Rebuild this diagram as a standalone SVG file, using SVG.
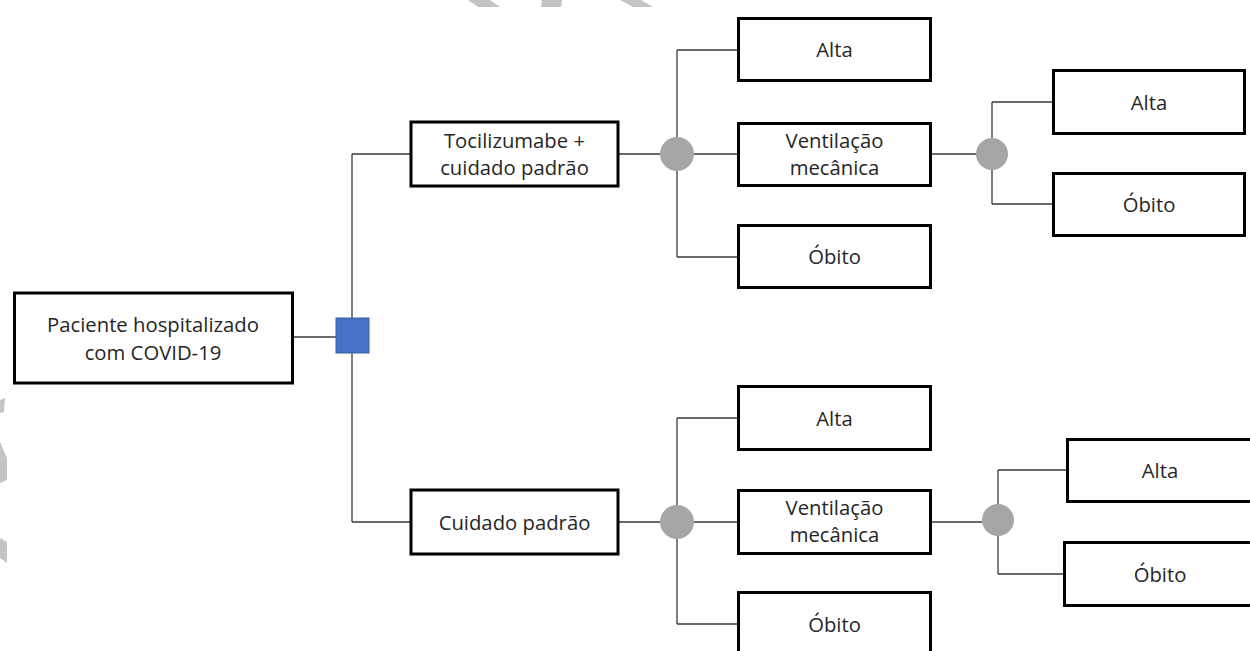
<svg xmlns="http://www.w3.org/2000/svg" width="1250" height="651" viewBox="0 0 1250 651">
<style>
.box{fill:#fff;stroke:#000;stroke-width:3}
.t{font-family:"Open Sans","Noto Sans","Liberation Sans",sans-serif;font-size:20.3px;fill:#262626;text-anchor:middle}
.c{stroke:#3a3a3a;stroke-width:1.3;fill:none}
.chance{fill:#a6a6a6}
.wm{fill:#c4c4c4}
</style>
<rect width="1250" height="651" fill="#fff"/>
<g id="watermark">
<polygon class="wm" points="468,0 490,0 500,7 478,7"/>
<polygon class="wm" points="542,0 562,0 561,7 541,7"/>
<polygon class="wm" points="620,0 641,0 653,7 633,7"/>
<polygon class="wm" points="0,400 5,398 4,412 0,413"/>
<polygon class="wm" points="0,442 7,458 7,480 0,483"/>
<polygon class="wm" points="0,538 7,542 7,563 0,558"/>
</g>
<g id="connectors">
<path class="c" d="M293 337H336"/>
<path class="c" d="M352 154V522M352 154H410M352 522H410"/>
<path class="c" d="M619 154H677M677 50V257M677 50H737M677 154H737M677 257H737"/>
<path class="c" d="M932 154H992M992 102V204M992 102H1052M992 204H1052"/>
<path class="c" d="M619 522H677M677 418V624M677 418H737M677 522H737M677 624H737"/>
<path class="c" d="M932 522H998M998 470V574M998 470H1066M998 574H1063"/>
</g>
<g id="n-root"><rect class="box" x="14.5" y="293" width="278" height="90"/><text class="t" x="153" y="332">Paciente hospitalizado</text><text class="t" x="153" y="360">com COVID-19</text></g>
<g id="n-decision"><rect x="336" y="318" width="33" height="35" fill="#4472c4" stroke="#3a5f9f" stroke-width="1"/></g>
<g id="n-toci"><rect class="box" x="411" y="122" width="207" height="64"/><text class="t" x="514.5" y="148">Tocilizumabe +</text><text class="t" x="514.5" y="175">cuidado padrão</text></g>
<g id="n-chance1"><circle class="chance" cx="677" cy="154" r="17"/></g>
<g id="n-alta1"><rect class="box" x="738.5" y="18.5" width="192" height="62"/><text class="t" x="834.5" y="57">Alta</text></g>
<g id="n-vent1"><rect class="box" x="738.5" y="123.5" width="192" height="62"/><text class="t" x="834.5" y="148">Ventilação</text><text class="t" x="834.5" y="175">mecânica</text></g>
<g id="n-obito1"><rect class="box" x="738.5" y="225.5" width="192" height="62"/><text class="t" x="834.5" y="264">Óbito</text></g>
<g id="n-chance2"><circle class="chance" cx="992" cy="154" r="16"/></g>
<g id="n-alta1b"><rect class="box" x="1053.5" y="70.5" width="191" height="63"/><text class="t" x="1149" y="110">Alta</text></g>
<g id="n-obito1b"><rect class="box" x="1053.5" y="173.5" width="191" height="62"/><text class="t" x="1149" y="212">Óbito</text></g>
<g id="n-cuid"><rect class="box" x="411" y="490" width="207" height="64"/><text class="t" x="514.5" y="530">Cuidado padrão</text></g>
<g id="n-chance3"><circle class="chance" cx="677" cy="522" r="17"/></g>
<g id="n-alta2"><rect class="box" x="738.5" y="386.5" width="192" height="63"/><text class="t" x="834.5" y="426">Alta</text></g>
<g id="n-vent2"><rect class="box" x="738.5" y="490.5" width="192" height="63"/><text class="t" x="834.5" y="515">Ventilação</text><text class="t" x="834.5" y="542">mecânica</text></g>
<g id="n-obito2"><rect class="box" x="738.5" y="592.5" width="192" height="64"/><text class="t" x="834.5" y="632">Óbito</text></g>
<g id="n-chance4"><circle class="chance" cx="998" cy="520" r="16"/></g>
<g id="n-alta2b"><rect class="box" x="1067.5" y="439.5" width="200" height="62"/><text class="t" x="1160" y="478">Alta</text></g>
<g id="n-obito2b"><rect class="box" x="1064.5" y="542.5" width="200" height="63"/><text class="t" x="1160" y="582">Óbito</text></g>
</svg>
